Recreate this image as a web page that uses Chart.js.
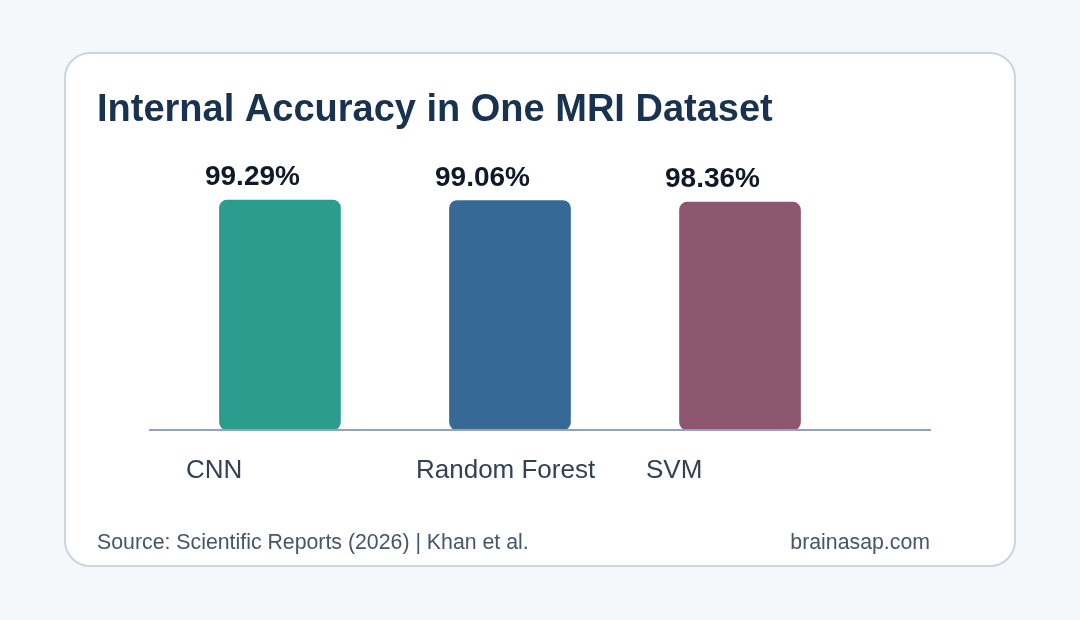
<!DOCTYPE html>
<html>
<head>
<meta charset="utf-8">
<script src="https://cdn.jsdelivr.net/npm/chart.js@4"></script>
<style>
  html, body { margin: 0; padding: 0; background: #f5f8fb; }
  #wrap { position: absolute; left: 0; top: 0; width: 1080px; height: 620px; }
</style>
</head>
<body>
<div id="wrap"><canvas id="c" width="1080" height="620"></canvas></div>
<script>
const categories = ['CNN', 'Random Forest', 'SVM'];
const accuracy = [99.29, 99.06, 98.36];
const barColors = ['#2a9d8f', '#376996', '#8d5670'];
const titleText = 'Internal Accuracy in One MRI Dataset';
const sourceText = 'Source: Scientific Reports (2026) | Khan et al.';
const brandText = 'brainasap.com';

const FONT = '"Liberation Sans", Arial, Helvetica, sans-serif';

const cardPlugin = {
  id: 'card',
  beforeDraw(chart) {
    const ctx = chart.ctx;
    ctx.save();
    ctx.fillStyle = '#f5f8fb';
    ctx.fillRect(0, 0, chart.width, chart.height);
    ctx.beginPath();
    ctx.roundRect(65, 53, 950, 513, 25);
    ctx.fillStyle = '#ffffff';
    ctx.fill();
    ctx.lineWidth = 2;
    ctx.strokeStyle = '#cbd5e1';
    ctx.stroke();
    ctx.restore();
  },
  afterDraw(chart) {
    const ctx = chart.ctx;
    ctx.save();
    ctx.textBaseline = 'alphabetic';
    ctx.fillStyle = '#18324f';
    ctx.font = 'bold 38px ' + FONT;
    ctx.textAlign = 'left';
    ctx.fillText(titleText, 97, 121);
    ctx.font = '21.3px ' + FONT;
    ctx.fillStyle = '#475569';
    ctx.fillText(sourceText, 97, 549);
    ctx.textAlign = 'right';
    ctx.fillText(brandText, 930, 549);
    ctx.restore();
  }
};

const valueLabels = {
  id: 'valueLabels',
  afterDatasetsDraw(chart) {
    const ctx = chart.ctx;
    const meta = chart.getDatasetMeta(0);
    ctx.save();
    ctx.font = 'bold 28px ' + FONT;
    ctx.fillStyle = '#111827';
    ctx.textAlign = 'left';
    ctx.textBaseline = 'alphabetic';
    meta.data.forEach((bar, i) => {
      ctx.fillText(accuracy[i].toFixed(2) + '%', bar.x - 75, bar.y - 15);
    });
    ctx.restore();
  }
};

new Chart(document.getElementById('c'), {
  type: 'bar',
  data: {
    datasets: [{
      data: accuracy.map((v, i) => ({ x: i, y: v })),
      backgroundColor: barColors,
      borderRadius: 8,
      borderSkipped: false,
      barThickness: 121
    }]
  },
  options: {
    responsive: false,
    animation: false,
    events: [],
    layout: { padding: { left: 150, right: 150, top: 198.35, bottom: 130 } },
    plugins: { legend: { display: false }, tooltip: { enabled: false }, title: { display: false } },
    scales: {
      x: {
        type: 'linear',
        offset: false,
        min: -0.565,
        max: 2.826,
        afterBuildTicks: s => { s.ticks = categories.map((c, i) => ({ value: i })); },
        afterFit: s => { s.height = 60; },
        grid: { display: false, drawTicks: false, offset: false },
        border: { display: true, color: '#94a3b8', width: 2, z: 1 },
        ticks: {
          autoSkip: false,
          maxRotation: 0,
          align: 'start',
          labelOffset: -94,
          padding: 25,
          color: '#334155',
          font: { family: FONT, size: 26 },
          callback: v => categories[v]
        }
      },
      y: {
        display: false,
        min: 0,
        max: 100
      }
    }
  },
  plugins: [cardPlugin, valueLabels]
});
</script>
</body>
</html>
